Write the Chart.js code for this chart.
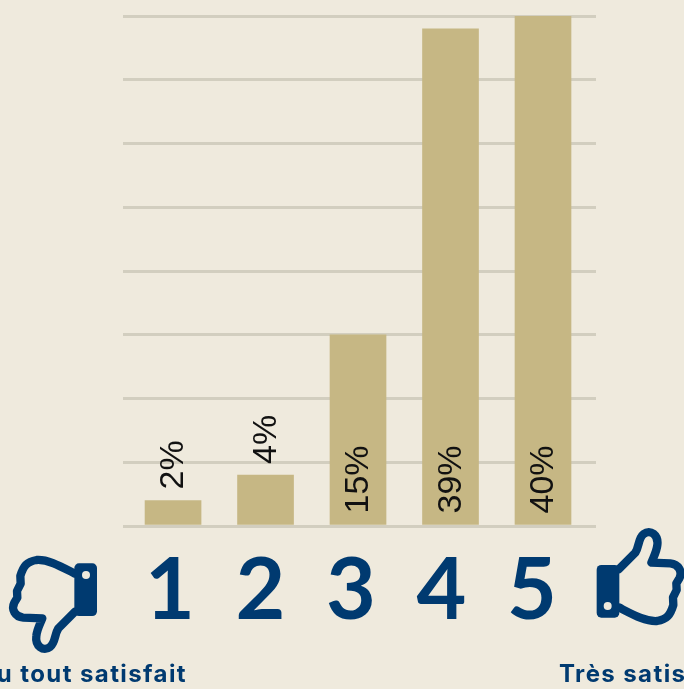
<!DOCTYPE html>
<html lang="fr">
<head>
<meta charset="utf-8">
<title>Satisfaction</title>
<script src="https://cdn.jsdelivr.net/npm/chart.js@4/dist/chart.umd.min.js"></script>
<style>
  html, body { margin: 0; padding: 0; background: #efeadd; overflow: hidden; }
  canvas { display: block; }
</style>
</head>
<body>
<canvas id="chart" width="684" height="689"></canvas>
<script>
// ── Data ──────────────────────────────────────────────────────────────
const categories = [1, 2, 3, 4, 5];
const shares     = [2, 4, 15, 39, 40];
const yTicksMax  = 40;
const yTickStep  = 5;
const captionLow  = 'Pas du tout satisfait';
const captionHigh = 'Très satisfait';

// ── Colours ───────────────────────────────────────────────────────────
const BAR_COLOR  = '#c6b784';
const GRID_COLOR = '#d2cebf';
const NAVY       = '#003a70';

// Rotated percentage labels: small bars carry them above, tall bars inside
const barLabels = {
  id: 'barLabels',
  afterDatasetsDraw(chart) {
    const { ctx } = chart;
    chart.getDatasetMeta(0).data.forEach((bar, i) => {
      const value = shares[i];
      const start = value < 5 ? bar.y - 11 : bar.base - 11;
      ctx.save();
      ctx.translate(bar.x + 1, start);
      ctx.rotate(-Math.PI / 2);
      ctx.font = '34px "Liberation Sans"';
      ctx.fillStyle = '#111111';
      ctx.textAlign = 'left';
      ctx.textBaseline = 'middle';
      ctx.fillText(value + '%', 0, 0);
      ctx.restore();
    });
  },
};

// Thumb icon, drawn pointing up, in a 3x grid
function drawThumb(ctx) {
  ctx.strokeStyle = NAVY;
  ctx.fillStyle = NAVY;
  ctx.lineWidth = 25;
  ctx.lineJoin = 'round';
  ctx.lineCap = 'round';

  ctx.beginPath();
  ctx.moveTo(830, 148);
  ctx.lineTo(880, 98);
  ctx.bezierCurveTo(892, 80, 888, 55, 905, 42);
  ctx.bezierCurveTo(925, 26, 950, 45, 946, 75);
  ctx.bezierCurveTo(944, 95, 935, 110, 928, 128);
  ctx.lineTo(985, 130);
  ctx.bezierCurveTo(1010, 132, 1022, 155, 1012, 175);
  ctx.lineTo(1003, 190);
  ctx.lineTo(1004, 210);
  ctx.lineTo(993, 232);
  ctx.lineTo(994, 255);
  ctx.bezierCurveTo(985, 285, 975, 298, 945, 303);
  ctx.bezierCurveTo(910, 305, 875, 285, 830, 262);
  ctx.stroke();

  // Cuff with its small hole
  ctx.beginPath();
  ctx.roundRect(764, 135, 68, 158, 14);
  ctx.fill();
  ctx.beginPath();
  ctx.arc(797, 258, 12, 0, Math.PI * 2);
  ctx.fillStyle = '#efeadd';
  ctx.fill();
}

const decorations = {
  id: 'decorations',
  afterDraw(chart) {
    const { ctx } = chart;

    ctx.save();
    ctx.translate(342, 520);
    ctx.scale(1 / 3, 1 / 3);
    drawThumb(ctx);
    ctx.restore();

    ctx.save();
    ctx.translate(351.67, 661);
    ctx.scale(-1 / 3, -1 / 3);
    drawThumb(ctx);
    ctx.restore();

    ctx.save();
    ctx.font = 'bold 24px Inter';
    ctx.letterSpacing = '1.4px';
    ctx.fillStyle = NAVY;
    ctx.textBaseline = 'alphabetic';
    ctx.textAlign = 'right';
    ctx.fillText(captionLow, 187, 682);
    ctx.textAlign = 'left';
    ctx.fillText(captionHigh, 559, 682);
    ctx.restore();
  },
};

// ── Chart ─────────────────────────────────────────────────────────────
new Chart(document.getElementById('chart'), {
  type: 'bar',
  data: {
    datasets: [{
      data: categories.map((c, i) => ({ x: c, y: shares[i] })),
      backgroundColor: BAR_COLOR,
      barThickness: 56,
      borderWidth: 0,
    }],
  },
  options: {
    responsive: false,
    animation: false,
    layout: { padding: { left: 123, right: 88, top: 16, bottom: 0 } },
    plugins: { legend: { display: false }, tooltip: { enabled: false } },
    scales: {
      y: {
        min: 0,
        max: yTicksMax,
        ticks: { display: false, stepSize: yTickStep },
        border: { display: false },
        grid: { color: GRID_COLOR, lineWidth: 3, drawTicks: false },
        afterFit: (scale) => { scale.width = 0; },
      },
      // Bars sit on this hidden axis
      x: {
        type: 'linear',
        display: false,
        offset: false,
        min: 0.459,
        max: 5.573,
      },
      // The big digits are spaced a little tighter than the bars
      xDigits: {
        type: 'linear',
        axis: 'x',
        position: 'bottom',
        offset: false,
        min: 0.481,
        max: 5.707,
        grid: { display: false },
        border: { display: false },
        afterBuildTicks: (scale) => {
          scale.ticks = categories.map(value => ({ value }));
        },
        afterFit: (scale) => { scale.height = 163; },
        ticks: {
          autoSkip: false,
          maxRotation: 0,
          padding: 6,
          color: NAVY,
          font: { family: 'Lato', size: 86, weight: 'bold' },
          callback: (value) => String(value),
        },
      },
    },
  },
  plugins: [barLabels, decorations],
});
</script>
</body>
</html>
